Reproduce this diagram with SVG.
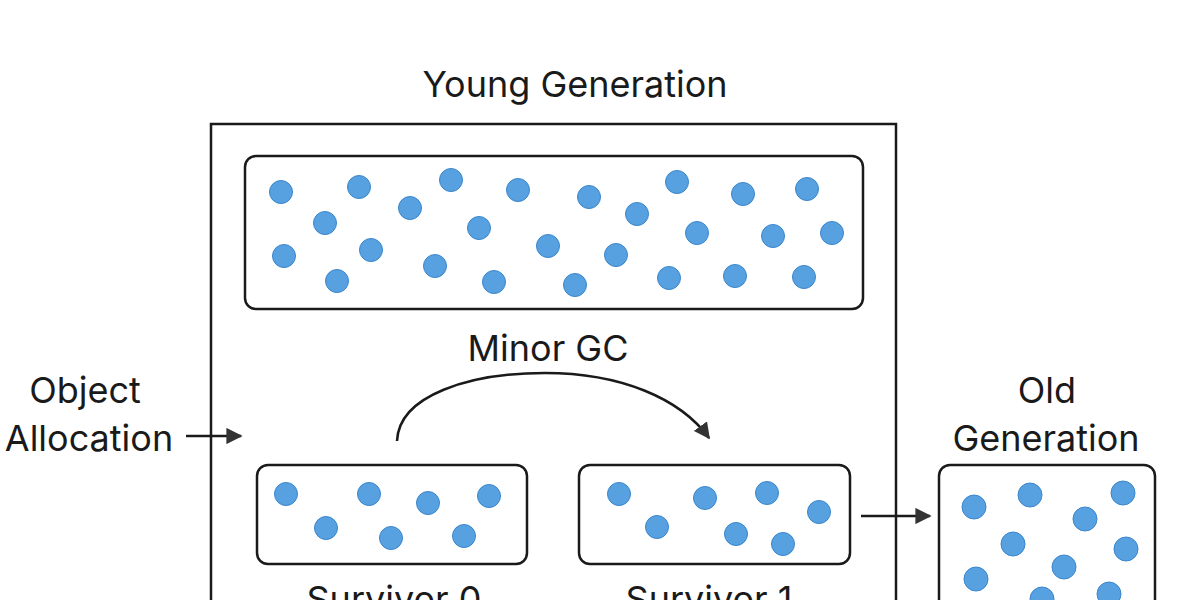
<svg xmlns="http://www.w3.org/2000/svg" width="1200" height="600" viewBox="0 0 1200 600">
<defs>
<style>
.box{fill:#fff;stroke:#1a1a1a;stroke-width:2.5}
.dot{fill:#57a1e1;stroke:#3b86cc;stroke-width:1}
.lbl{font-family:Inter,"Liberation Sans",sans-serif;font-size:36px;fill:#1a1a1a;text-anchor:middle}
.conn{fill:none;stroke:#1a1a1a;stroke-width:2.5}
</style>
<marker id="ah" viewBox="0 0 10 10" refX="9" refY="5" markerWidth="6.5" markerHeight="6.5" markerUnits="strokeWidth" orient="auto">
<path d="M0,0 L10,5 L0,10 Z" fill="#333"/>
</marker>
</defs>
<rect width="1200" height="600" fill="#fff"/>
<g id="young-generation">
<rect class="box" x="211" y="124" width="685" height="500" rx="0"/>
<text class="lbl" x="575" y="97">Young Generation</text>
</g>
<g id="eden">
<rect class="box" x="245" y="156" width="618" height="153" rx="11"/>
<circle class="dot" cx="281" cy="192" r="11.5"/>
<circle class="dot" cx="359" cy="187" r="11.5"/>
<circle class="dot" cx="451" cy="180" r="11.5"/>
<circle class="dot" cx="518" cy="190" r="11.5"/>
<circle class="dot" cx="589" cy="197" r="11.5"/>
<circle class="dot" cx="677" cy="182" r="11.5"/>
<circle class="dot" cx="743" cy="194" r="11.5"/>
<circle class="dot" cx="807" cy="189" r="11.5"/>
<circle class="dot" cx="325" cy="223" r="11.5"/>
<circle class="dot" cx="410" cy="208" r="11.5"/>
<circle class="dot" cx="479" cy="228" r="11.5"/>
<circle class="dot" cx="637" cy="214" r="11.5"/>
<circle class="dot" cx="697" cy="233" r="11.5"/>
<circle class="dot" cx="773" cy="236" r="11.5"/>
<circle class="dot" cx="832" cy="233" r="11.5"/>
<circle class="dot" cx="284" cy="256" r="11.5"/>
<circle class="dot" cx="371" cy="250" r="11.5"/>
<circle class="dot" cx="548" cy="246" r="11.5"/>
<circle class="dot" cx="616" cy="255" r="11.5"/>
<circle class="dot" cx="435" cy="266" r="11.5"/>
<circle class="dot" cx="337" cy="281" r="11.5"/>
<circle class="dot" cx="494" cy="282" r="11.5"/>
<circle class="dot" cx="575" cy="285" r="11.5"/>
<circle class="dot" cx="669" cy="278" r="11.5"/>
<circle class="dot" cx="735" cy="276" r="11.5"/>
<circle class="dot" cx="804" cy="277" r="11.5"/>
</g>
<g id="minor-gc-label">
<text class="lbl" x="548" y="361">Minor GC</text>
</g>
<g id="object-allocation">
<text class="lbl" x="85" y="403">Object</text>
<text class="lbl" x="89" y="451">Allocation</text>
</g>
<g id="survivor-0">
<rect class="box" x="257" y="465" width="270" height="99" rx="11"/>
<circle class="dot" cx="286" cy="494" r="11.5"/>
<circle class="dot" cx="369" cy="494" r="11.5"/>
<circle class="dot" cx="428" cy="503" r="11.5"/>
<circle class="dot" cx="489" cy="496" r="11.5"/>
<circle class="dot" cx="326" cy="528" r="11.5"/>
<circle class="dot" cx="391" cy="538" r="11.5"/>
<circle class="dot" cx="464" cy="536" r="11.5"/>
<text class="lbl" x="394" y="612">Survivor 0</text>
</g>
<g id="survivor-1">
<rect class="box" x="579" y="465" width="271" height="99" rx="11"/>
<circle class="dot" cx="619" cy="494" r="11.5"/>
<circle class="dot" cx="705" cy="498" r="11.5"/>
<circle class="dot" cx="767" cy="493" r="11.5"/>
<circle class="dot" cx="819" cy="512" r="11.5"/>
<circle class="dot" cx="657" cy="527" r="11.5"/>
<circle class="dot" cx="736" cy="534" r="11.5"/>
<circle class="dot" cx="783" cy="544" r="11.5"/>
<text class="lbl" x="709" y="612">Survivor 1</text>
</g>
<g id="old-generation">
<text class="lbl" x="1047" y="403">Old</text>
<text class="lbl" x="1046" y="451">Generation</text>
<rect class="box" x="939" y="465" width="216" height="160" rx="11"/>
<circle class="dot" cx="974" cy="507" r="12"/>
<circle class="dot" cx="1030" cy="495" r="12"/>
<circle class="dot" cx="1123" cy="493" r="12"/>
<circle class="dot" cx="1085" cy="519" r="12"/>
<circle class="dot" cx="1013" cy="544" r="12"/>
<circle class="dot" cx="1126" cy="549" r="12"/>
<circle class="dot" cx="1064" cy="567" r="12"/>
<circle class="dot" cx="976" cy="579" r="12"/>
<circle class="dot" cx="1042" cy="599" r="12"/>
<circle class="dot" cx="1109" cy="594" r="12"/>
</g>
<g id="connectors">
<path class="conn" d="M186,436 L241,436" marker-end="url(#ah)"/>
<path class="conn" d="M397,441 C399,395 470,373 545,373 C620,373 680,398 709,438" marker-end="url(#ah)"/>
<path class="conn" d="M861,516 L930,516" marker-end="url(#ah)"/>
</g>
</svg>
